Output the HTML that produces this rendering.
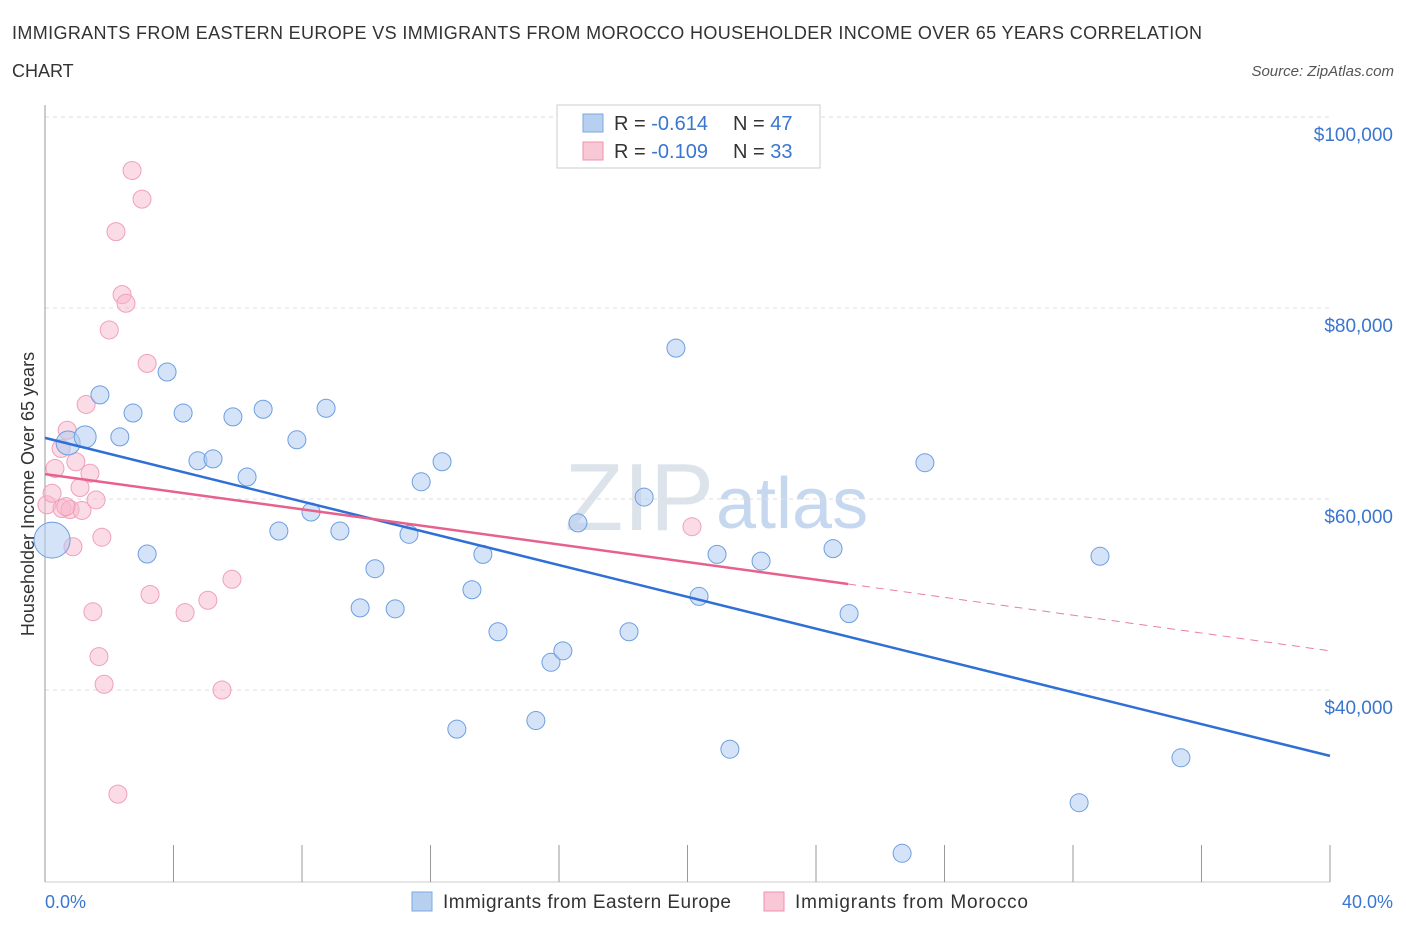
<!DOCTYPE html>
<html><head><meta charset="utf-8"><style>
body{margin:0;background:#fff;font-family:"Liberation Sans",sans-serif}
svg text{font-family:"Liberation Sans",sans-serif}
</style></head><body>
<svg id="c" width="1406" height="930">
<text x="12" y="39" font-size="18" fill="#333" textLength="1190">IMMIGRANTS FROM EASTERN EUROPE VS IMMIGRANTS FROM MOROCCO HOUSEHOLDER INCOME OVER 65 YEARS CORRELATION</text>
<text x="12" y="77" font-size="18" fill="#333">CHART</text>
<text x="1394" y="76" font-size="15" fill="#555" font-style="italic" text-anchor="end">Source: ZipAtlas.com</text>
<text x="714" y="530" font-size="96" fill="#dde3ea" text-anchor="end" font-family="Liberation Serif">ZIP</text>
<text x="716" y="528" font-size="72" fill="#c6d8f0">atlas</text>
<g id="grid"></g><g id="marks"></g>
<text transform="translate(34,494) rotate(-90)" font-size="18" fill="#333" text-anchor="middle">Householder Income Over 65 years</text>
<g>
<rect x="557" y="105" width="263" height="63" fill="#fff" stroke="#ccc"/>
<rect x="583" y="114" width="20" height="18" fill="#b8d0f0" stroke="#7aa8e0"/>
<text x="614" y="130" font-size="20" fill="#333">R = <tspan fill="#3a76d0">-0.614</tspan></text>
<text x="733" y="130" font-size="20" fill="#333">N = <tspan fill="#3a76d0">47</tspan></text>
<rect x="583" y="142" width="20" height="18" fill="#f8c8d6" stroke="#f090b0"/>
<text x="614" y="158" font-size="20" fill="#333">R = <tspan fill="#3a76d0">-0.109</tspan></text>
<text x="733" y="158" font-size="20" fill="#333">N = <tspan fill="#3a76d0">33</tspan></text>
</g>
<text x="45" y="908" font-size="18" fill="#3a76d0">0.0%</text>
<text x="1393" y="908" font-size="18" fill="#3a76d0" text-anchor="end">40.0%</text>
<rect x="412" y="892" width="20" height="19" fill="#b8d0f0" stroke="#7aa8e0"/>
<text x="443" y="908" font-size="19" fill="#333" textLength="288">Immigrants from Eastern Europe</text>
<rect x="764" y="892" width="20" height="19" fill="#f8c8d6" stroke="#f090b0"/>
<text x="795" y="908" font-size="19" fill="#333" textLength="233">Immigrants from Morocco</text>
</svg>
<script>
const yTicks=[40000,60000,80000,100000];
const yTickLabels=["$40,000","$60,000","$80,000","$100,000"];
const blueX=[0.22,0.72,1.25,1.71,2.33,2.74,3.18,3.80,4.30,4.76,5.23,5.85,6.29,6.79,7.28,7.84,8.28,8.75,9.18,10.27,9.81,10.90,11.33,11.71,12.36,12.82,13.29,13.63,14.10,15.28,15.75,16.12,16.59,18.18,18.65,19.64,20.36,20.92,21.32,22.29,24.53,25.03,26.68,27.39,32.19,32.84,35.36];
const blueY=[55700,65860,66500,70900,66500,69000,54240,73300,69000,64000,64200,68600,62300,69400,56650,66200,58640,69500,56650,52700,48600,48500,56300,61800,63900,35900,50500,54200,46100,36800,42900,44100,57500,46100,60200,75800,49800,54200,33800,53500,54800,48000,22900,63800,28200,54000,32900];
const blueR=[18,12,11,9,9,9,9,9,9,9,9,9,9,9,9,9,9,9,9,9,9,9,9,9,9,9,9,9,9,9,9,9,9,9,9,9,9,9,9,9,9,9,9,9,9,9,9];
const pinkX=[0.06,0.22,0.31,0.50,0.69,0.53,0.78,0.87,0.96,1.09,1.15,1.28,1.40,1.59,1.49,1.68,1.77,1.84,2.00,2.21,2.27,2.40,2.52,2.71,3.02,3.18,3.27,4.36,5.07,5.51,5.82,20.14,0.65];
const pinkY=[59400,60600,63200,65300,67200,59000,58900,55000,63900,61200,58800,69900,62700,59900,48200,43500,56000,40600,77700,88000,29100,81400,80500,94400,91400,74200,50000,48100,49400,40000,51600,57100,59200];
const blueLine=[[0,66400],[40,33100]];
const pinkLine=[[0,62600],[25,51100]];
const pinkDash=[[25,51100],[40,44100]];
const X=v=>45+v/40*1285, Y=v=>881-(v-20000)*191/20000;
const NS="http://www.w3.org/2000/svg";
const g=document.getElementById('grid'), m=document.getElementById('marks');
function el(t,a,p){const e=document.createElementNS(NS,t);for(const k in a)e.setAttribute(k,a[k]);p.appendChild(e);return e;}
yTicks.forEach((t,i)=>{
 const l=el('line',{x1:45,x2:1330,y1:Y(t),y2:Y(t),stroke:'#ddd','stroke-dasharray':'4,4'},g);
 
 
 const tx=el('text',{x:1393,y:Y(t)+24,'font-size':19,fill:'#3a76d0','text-anchor':'end'},g);
 tx.textContent=yTickLabels[i];
 
 
});
const topLine=el('line',{x1:45,x2:1330,y1:117,y2:117,stroke:'#ddd','stroke-dasharray':'4,4'},g);


const ax=el('line',{x1:45,x2:45,y1:105,y2:882,stroke:'#999'},g);


const bx=el('line',{x1:45,x2:1330,y1:882,y2:882,stroke:'#ccc'},g);


for(let i=0;i<=10;i++){const t=el('line',{x1:X(i*4),x2:X(i*4),y1:845,y2:882,stroke:'#999'},g);
 
 }
pinkX.forEach((x,i)=>{const c=el('circle',{cx:X(x),cy:Y(pinkY[i]),r:9,fill:'rgba(248,184,204,0.5)',stroke:'#f0a0bc','stroke-width':1},m);
 
 });
blueX.forEach((x,i)=>{const c=el('circle',{cx:X(x),cy:Y(blueY[i]),r:blueR[i],fill:'rgba(176,204,240,0.55)',stroke:'#6d9fe0','stroke-width':1},m);
 
 });
const bl=el('line',{x1:X(blueLine[0][0]),y1:Y(blueLine[0][1]),x2:X(blueLine[1][0]),y2:Y(blueLine[1][1]),stroke:'#2f6fd6','stroke-width':2.5},m);


const pl=el('line',{x1:X(pinkLine[0][0]),y1:Y(pinkLine[0][1]),x2:X(pinkLine[1][0]),y2:Y(pinkLine[1][1]),stroke:'#e8608c','stroke-width':2.5},m);


const pd=el('line',{x1:X(pinkDash[0][0]),y1:Y(pinkDash[0][1]),x2:X(pinkDash[1][0]),y2:Y(pinkDash[1][1]),stroke:'#e8809c','stroke-width':1,'stroke-dasharray':'8,6'},m);


</script>
</body></html>
